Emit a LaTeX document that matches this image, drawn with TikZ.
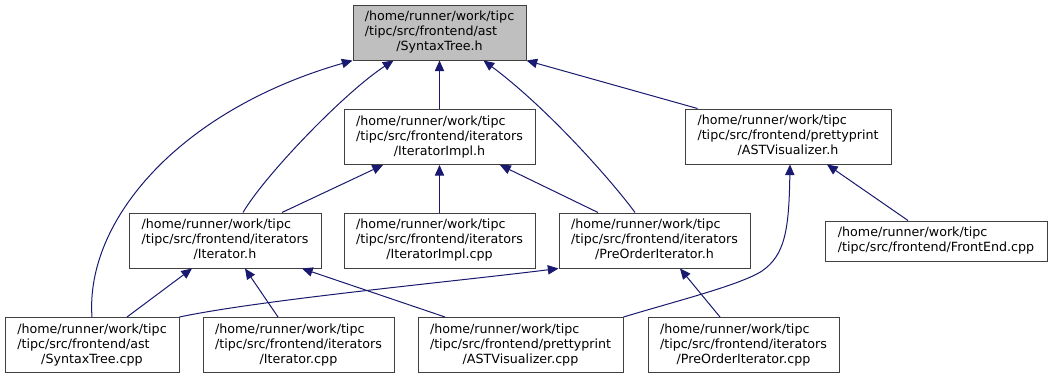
\documentclass[tikz,border=0pt]{standalone}
\usepackage{fontspec}
\setmainfont{DejaVu Sans}
\usetikzlibrary{arrows.meta,calc}

\definecolor{edgeblue}{HTML}{191970}
\definecolor{rootfill}{HTML}{BFBFBF}
\definecolor{boxline}{HTML}{404040}

% File label: leading lines flush left, last line centred
\newcommand{\filelabel}[3]{\begin{tabular}{@{}l@{}}#1\\#2\\\multicolumn{1}{@{}c@{}}{#3}\end{tabular}}
\newcommand{\filelabelii}[2]{\begin{tabular}{@{}l@{}}#1\\\multicolumn{1}{@{}c@{}}{#2}\end{tabular}}

\begin{document}
\begin{tikzpicture}[
  x=0.75pt, y=-0.75pt,
  font=\fontsize{9.5}{11.25}\selectfont,
  file/.style={draw=boxline, line width=0.75pt, fill=white, inner sep=0pt,
               minimum height=41.25pt, text=black},
  root/.style={file, fill=rootfill},
  dep/.style={draw=edgeblue, line width=0.75pt,
              -{Triangle[length=8pt,width=7pt]}},
]
\fill[white] (0,0) rectangle (1051,379);
\useasboundingbox (0,0) rectangle (1051,379);

% headers and sources
\node[root, minimum width=129.75pt] (sth) at (439.5,32.5)
  {\filelabel{/home/runner/work/tipc}{/tipc/src/frontend/ast}{/SyntaxTree.h}};
\node[file, minimum width=143.25pt] (iih) at (439.5,137)
  {\filelabel{/home/runner/work/tipc}{/tipc/src/frontend/iterators}{/IteratorImpl.h}};
\node[file, minimum width=154.5pt] (avh) at (788,136.5)
  {\filelabel{/home/runner/work/tipc}{/tipc/src/frontend/prettyprint}{/ASTVisualizer.h}};
\node[file, minimum width=144pt] (ith) at (225,240.5)
  {\filelabel{/home/runner/work/tipc}{/tipc/src/frontend/iterators}{/Iterator.h}};
\node[file, minimum width=143.25pt] (iic) at (439.5,240.5)
  {\filelabel{/home/runner/work/tipc}{/tipc/src/frontend/iterators}{/IteratorImpl.cpp}};
\node[file, minimum width=143.25pt] (poh) at (654.5,240.5)
  {\filelabel{/home/runner/work/tipc}{/tipc/src/frontend/iterators}{/PreOrderIterator.h}};
\node[file, minimum width=166.5pt, minimum height=30pt] (fec) at (936,241)
  {\filelabelii{/home/runner/work/tipc}{/tipc/src/frontend/FrontEnd.cpp}};
\node[file, minimum width=130.5pt] (stc) at (92,345)
  {\filelabel{/home/runner/work/tipc}{/tipc/src/frontend/ast}{/SyntaxTree.cpp}};
\node[file, minimum width=143.25pt] (itc) at (298.5,345)
  {\filelabel{/home/runner/work/tipc}{/tipc/src/frontend/iterators}{/Iterator.cpp}};
\node[file, minimum width=153.75pt] (avc) at (520.5,345)
  {\filelabel{/home/runner/work/tipc}{/tipc/src/frontend/prettyprint}{/ASTVisualizer.cpp}};
\node[file, minimum width=143.25pt] (poc) at (743.5,345)
  {\filelabel{/home/runner/work/tipc}{/tipc/src/frontend/iterators}{/PreOrderIterator.cpp}};

% include dependencies (arrow points at the included file)
\draw[dep] (stc.north) .. controls (85,220) and (180,110) .. (sth.south west);
\draw[dep] ($(ith.north)+(18,0)$) .. controls (265,175) and (345,92) .. ($(sth.south)+(-46,0)$);
\draw[dep] (iih.north) -- (sth.south);
\draw[dep] ($(poh.north)+(-19.5,0)$) .. controls (615,185) and (550,110) .. ($(sth.south)+(44,0)$);
\draw[dep] ($(avh.north west)+(13,0)$) -- (sth.south east);
\draw[dep] ($(ith.north)+(57,0)$) -- ($(iih.south)+(-56.5,0)$);
\draw[dep] (iic.north) -- (iih.south);
\draw[dep] ($(poh.north)+(-56.5,0)$) -- ($(iih.south)+(60.5,0)$);
\draw[dep] ($(fec.north)+(-28,0)$) -- ($(avh.south)+(39,0)$);
\draw[dep] (avc.north east) .. controls (680,300) and (740,285) .. (762,271)
           .. controls (785,255) and (789,230) .. ($(avh.south)+(2,0)$);
\draw[dep] ($(stc.north)+(35,0)$) -- ($(ith.south)+(-33,0)$);
\draw[dep] ($(itc.north)+(-20.5,0)$) -- ($(ith.south)+(20,0)$);
\draw[dep] ($(avc.north)+(-75.5,0)$) -- ($(ith.south)+(77,0)$);
\draw[dep] (stc.north east) .. controls (260,300) and (450,282) .. (poh.south west);
\draw[dep] ($(poc.north)+(-23.5,0)$) -- ($(poh.south)+(25.5,0)$);
\end{tikzpicture}
\end{document}
